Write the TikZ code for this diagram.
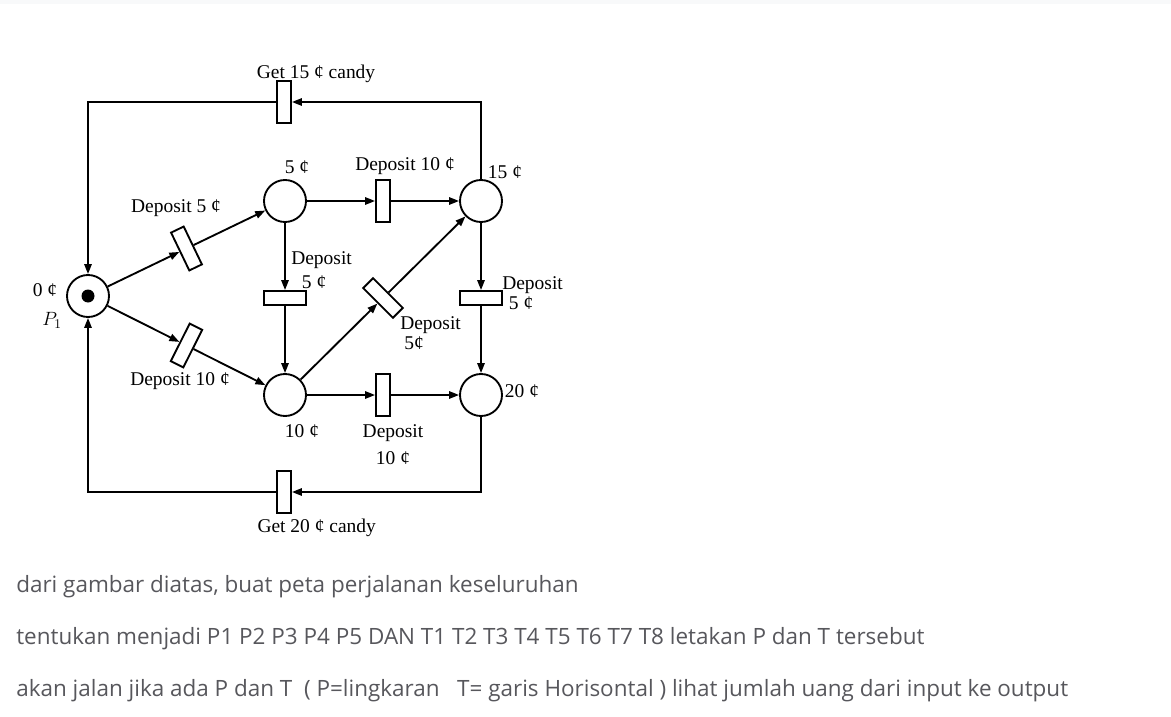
\documentclass[tikz,border=0pt]{standalone}
\usepackage{fontspec}
\setmainfont{Liberation Serif}
\newfontfamily\opensans{Open Sans}
\usetikzlibrary{arrows.meta,positioning}
\definecolor{notegray}{RGB}{87,87,92}
\definecolor{bandgray}{RGB}{248,249,250}

\tikzset{
  place/.style={circle, draw, line width=1.4pt, minimum size=31.5pt, inner sep=0pt},
  trans/.style={rectangle, draw, line width=1.4pt, minimum width=10.5pt, minimum height=31.5pt, inner sep=0pt},
  flow/.style={line width=1.4pt, -{Triangle[length=7.5pt,width=5.5pt]}},
  lbl/.style={inner sep=0.75pt, font=\fontsize{14.6}{17}\selectfont},
  note/.style={anchor=base west, inner sep=0pt, text=notegray, font=\opensans\fontsize{16.85}{20}\selectfont}
}

\begin{document}
\begin{tikzpicture}[x=0.75pt,y=0.75pt,yscale=-1,xscale=1]
\useasboundingbox (0,0) rectangle (1171,717);
%Shape: top band
\fill[bandgray] (0,0) rectangle (1171,4);

%Places
\node[place] (p1) at (88,296) {};
\node[place] (p2) at (285,201) {};
\node[place] (p3) at (481,201) {};
\node[place] (p4) at (285,395) {};
\node[place] (p5) at (481,395) {};
%Token
\fill (p1) circle (6.5);

%Transitions
\node[trans] (t8) at (284,102) {};
\node[trans, rotate=25.7] (t1) at (186.5,248.5) {};
\node[trans, rotate=-26.7] (t2) at (186.5,345.5) {};
\node[trans] (t3) at (383,201) {};
\node[trans, rotate=90] (t4) at (285,298) {};
\node[trans, rotate=45] (t5) at (383,298) {};
\node[trans, rotate=90] (t7) at (481,298) {};
\node[trans] (t6) at (383,395) {};
\node[trans] (t9) at (284,492) {};

%Arcs
\draw[flow] (p1) -- (t1);
\draw[flow] (t1) -- (p2);
\draw[flow] (p1) -- (t2);
\draw[flow] (t2) -- (p4);
\draw[flow] (p2) -- (t3);
\draw[flow] (t3) -- (p3);
\draw[flow] (p2) -- (t4);
\draw[flow] (t4) -- (p4);
\draw[flow] (p4) -- (t5);
\draw[flow] (t5) -- (p3);
\draw[flow] (p4) -- (t6);
\draw[flow] (t6) -- (p5);
\draw[flow] (p3) -- (t7);
\draw[flow] (t7) -- (p5);
\draw[flow] (p3) |- (t8);
\draw[flow] (t8) -| (p1);
\draw[flow] (p5) |- (t9);
\draw[flow] (t9) -| (p1);

% Text Node
\node[lbl] (lget15) at (316,74) {Get 15 ¢ candy};
\node[lbl] (lfive) at (297,167) {5 ¢};
\node[lbl] (ldep10a) at (405,166) {Deposit 10 ¢};
\node[lbl] (lfifteen) at (505,172) {15 ¢};
\node[lbl] (ldep5a) at (176,208) {Deposit 5 ¢};
\node[lbl, align=left, anchor=west] (ldep5b) at (290,270) {Deposit\\[1pt]\hspace{8pt}5 ¢};
\node[lbl, align=left, anchor=west] (ldep5c) at (501,293) {Deposit\\[-2pt]\hspace{5pt}5 ¢};
\node[lbl, align=left, anchor=west] (ldep5d) at (399,333) {Deposit\\[-2pt]\hspace{3pt}5¢};
\node[lbl] (ldep10b) at (180,381) {Deposit 10 ¢};
\node[lbl] (ltwenty) at (522,391) {20 ¢};
\node[lbl] (lten) at (302,431) {10 ¢};
\node[lbl, align=center] (ldep10c) at (393,445) {Deposit\\[3.3pt]10 ¢};
\node[lbl] (lget20) at (316.7,528) {Get 20 ¢ candy};
\node[lbl] (lzero) at (45,290) {0 ¢};
\node[lbl] (lpone) at (52,320) {$P_1$};

% Text Node
\node[note] (n1) at (16,592) {dari gambar diatas, buat peta perjalanan keseluruhan};
\node[note] (n2) at (16,644) {tentukan menjadi P1 P2 P3 P4 P5 DAN T1 T2 T3 T4 T5 T6 T7 T8 letakan P dan T tersebut};
\node[note] (n3) at (16,696) {akan jalan jika ada P dan T\ \ ( P=lingkaran\ \ \ T= garis Horisontal ) lihat jumlah uang dari input ke output};

\end{tikzpicture}
\end{document}
